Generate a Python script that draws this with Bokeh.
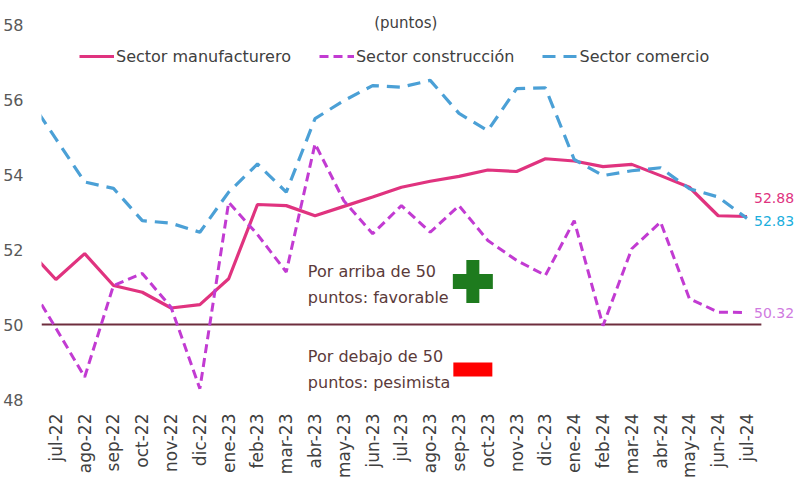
import math
from bokeh.plotting import figure
from bokeh.models import Range1d, FixedTicker, Label, Legend, LegendItem
from bokeh.embed import file_html
from bokeh.resources import INLINE

# ---- data (jun-22 is only partly visible at the left edge) ----
months = ["jun-22", "jul-22", "ago-22", "sep-22", "oct-22", "nov-22", "dic-22",
          "ene-23", "feb-23", "mar-23", "abr-23", "may-23", "jun-23", "jul-23",
          "ago-23", "sep-23", "oct-23", "nov-23", "dic-23", "ene-24", "feb-24",
          "mar-24", "abr-24", "may-24", "jun-24", "jul-24"]
manufacturero = [52.03, 51.20, 51.89, 51.04, 50.86, 50.44, 50.53, 51.22, 53.20, 53.17,
                 52.90, 53.15, 53.40, 53.66, 53.82, 53.95, 54.12, 54.08, 54.42, 54.36,
                 54.21, 54.27, 53.97, 53.66, 52.90, 52.88]
construccion = [51.17, 49.90, 48.60, 51.04, 51.36, 50.46, 48.29, 53.26, 52.40, 51.40,
                54.82, 53.30, 52.42, 53.17, 52.46, 53.17, 52.24, 51.71, 51.31, 52.77,
                49.97, 52.02, 52.73, 50.69, 50.33, 50.32]
comercio = [56.10, 54.95, 53.80, 53.63, 52.77, 52.70, 52.46, 53.53, 54.28, 53.53,
            55.49, 55.97, 56.37, 56.33, 56.51, 55.63, 55.17, 56.29, 56.31, 54.40,
            53.97, 54.10, 54.18, 53.62, 53.40, 52.83]
y_ticks = [48, 50, 52, 54, 56, 58]
series_names = ["Sector manufacturero", "Sector construcción", "Sector comercio"]
threshold = 50

FONT = "DejaVu Sans"
TXT = "#404040"
C_MAN = "#E0337F"
C_CON = "#C23BD2"
C_COM = "#4BA0D6"

x = list(range(len(months)))
x_start = 0.5
x_end = len(months) - 0.5

p = figure(width=796, height=490, output_backend="svg", toolbar_location=None,
           x_range=Range1d(x_start, 26.72), y_range=Range1d(48, 58.64),
           min_border_left=41, min_border_right=0, min_border_top=0, min_border_bottom=91)
p.outline_line_color = None
p.xgrid.grid_line_color = None
p.ygrid.grid_line_color = None
p.background_fill_color = "white"
p.border_fill_color = "white"

# axes
p.xaxis.ticker = FixedTicker(ticks=x[1:])
p.xaxis.major_label_overrides = {i: months[i] for i in x}
p.xaxis.major_label_orientation = math.pi / 2
p.xaxis.axis_line_color = None
p.xaxis.major_tick_line_color = None
p.xaxis.minor_tick_line_color = None
p.xaxis.major_label_text_font = FONT
p.xaxis.major_label_text_font_size = "17px"
p.xaxis.major_label_text_color = TXT
p.xaxis.major_label_standoff = 8

p.yaxis.ticker = FixedTicker(ticks=y_ticks)
p.yaxis.axis_line_color = None
p.yaxis.major_tick_line_color = None
p.yaxis.minor_tick_line_color = None
p.yaxis.major_label_text_font = FONT
p.yaxis.major_label_text_font_size = "16px"
p.yaxis.major_label_text_color = "#595959"
p.yaxis.major_label_standoff = 12

# threshold line across the category span
p.line([x_start, x_end], [threshold, threshold], line_color="#6E2E3E", line_width=2)

r_man = p.line(x, manufacturero, line_color=C_MAN, line_width=3.2)
r_con = p.line(x, construccion, line_color=C_CON, line_width=3, line_dash="9 5")
r_com = p.line(x, comercio, line_color=C_COM, line_width=3.2, line_dash="13 8")

legend = Legend(items=[LegendItem(label=series_names[0], renderers=[r_man]),
                       LegendItem(label=series_names[1], renderers=[r_con]),
                       LegendItem(label=series_names[2], renderers=[r_com])],
                orientation="horizontal", location=(38, 333),
                glyph_width=35, glyph_height=20, label_standoff=2, spacing=28,
                padding=0, margin=0, border_line_color=None, background_fill_alpha=0,
                label_text_font=FONT, label_text_font_size="16px", label_text_color=TXT)
p.add_layout(legend, "center")

# title
p.add_layout(Label(x=13.15, y=58.05, text="(puntos)", text_align="center", text_baseline="middle",
                   text_font=FONT, text_font_size="15px", text_color=TXT))

# end value labels
last = len(months) - 1
p.add_layout(Label(x=last, y=manufacturero[-1], x_offset=7, y_offset=19, text=f"{manufacturero[-1]:.2f}",
                   text_align="left", text_baseline="middle", text_font=FONT,
                   text_font_size="14px", text_color=C_MAN))
p.add_layout(Label(x=last, y=comercio[-1], x_offset=7, y_offset=-3, text=f"{comercio[-1]:.2f}",
                   text_align="left", text_baseline="middle", text_font=FONT,
                   text_font_size="14px", text_color="#1AAEDD"))
p.add_layout(Label(x=last, y=construccion[-1], x_offset=7, y_offset=0, text=f"{construccion[-1]:.2f}",
                   text_align="left", text_baseline="middle", text_font=FONT,
                   text_font_size="14px", text_color="#D07ADF"))

# annotations
ANN = "#5B3A3A"
for txt, yy in [("Por arriba de 50", 51.41), ("puntos: favorable", 50.72),
                ("Por debajo de 50", 49.15), ("puntos: pesimista", 48.45)]:
    p.add_layout(Label(x=9.75, y=yy, text=txt, text_align="left", text_baseline="middle",
                       text_font=FONT, text_font_size="16px", text_color=ANN))

# green plus and red minus signs
p.rect(x=[15.48, 15.48], y=[51.15, 51.15], width=[13, 40], height=[43, 15],
       width_units="screen", height_units="screen", fill_color="#1E7B1E", line_color=None)
p.rect(x=[15.48], y=[48.8], width=[39], height=[14],
       width_units="screen", height_units="screen", fill_color="#FF0000", line_color=None)

open("out.html", "w").write(file_html(p, INLINE))
